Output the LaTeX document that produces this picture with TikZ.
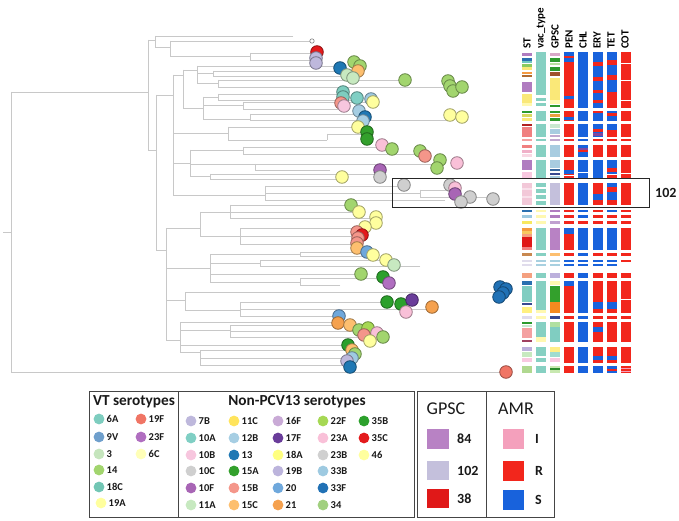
\documentclass[tikz,border=0pt]{standalone}
\usepackage{fontspec}
\setmainfont{Carlito}
% heatmap colours
\definecolor{hR}{HTML}{F2261C}\definecolor{hS}{HTML}{1862DC}\definecolor{hI}{HTML}{F4A0BC}
\definecolor{hT}{HTML}{86D0C2}\definecolor{hPY}{HTML}{FFF8B0}\definecolor{hY}{HTML}{FAE878}
\definecolor{hPur}{HTML}{B07CC0}\definecolor{hBlu}{HTML}{2A70B0}\definecolor{hTeal}{HTML}{70C8C0}
\definecolor{hGrn}{HTML}{8ACB60}\definecolor{hOr}{HTML}{F59A40}\definecolor{hBr}{HTML}{B06A30}
\definecolor{hLil}{HTML}{D8A8C8}\definecolor{hDG}{HTML}{2C9A2C}\definecolor{hPG}{HTML}{B8E0A0}
\definecolor{hBrn}{HTML}{A0522D}\definecolor{hOl}{HTML}{D8D860}\definecolor{hOrB}{HTML}{E8A040}
\definecolor{hDR}{HTML}{B02020}\definecolor{hSal}{HTML}{F08080}\definecolor{hSalB}{HTML}{F4A0A0}
\definecolor{hMint}{HTML}{C8E8D0}\definecolor{hLB}{HTML}{A8CCE0}\definecolor{hLilB}{HTML}{C0A8D0}
\definecolor{hVio}{HTML}{8048A0}\definecolor{hPk}{HTML}{F0B0C8}\definecolor{hPPk}{HTML}{F8D8E4}
\definecolor{hPkB}{HTML}{F8C8E0}\definecolor{hDB}{HTML}{3868A0}\definecolor{hNav}{HTML}{384890}
\definecolor{hLav}{HTML}{C4C0DC}\definecolor{hBxPk}{HTML}{F2C8D8}\definecolor{hBxPkB}{HTML}{F8E0EA}
\definecolor{hEF}{HTML}{B882C4}\definecolor{hRedB}{HTML}{E01818}\definecolor{hOrY}{HTML}{F8C860}
\definecolor{hSalC}{HTML}{F4A080}\definecolor{hBO}{HTML}{C88850}\definecolor{hOrL}{HTML}{FDBF6F}
\definecolor{hLBg}{HTML}{A8D0E0}\definecolor{hPale}{HTML}{E0DCEC}\definecolor{hYB}{HTML}{FFF080}
\definecolor{hOrC}{HTML}{F58A1F}\definecolor{hGG}{HTML}{33A02C}\definecolor{hLG}{HTML}{B0E0A0}
\definecolor{hPR}{HTML}{A04060}\definecolor{hLGB}{HTML}{B0D890}\definecolor{hLGC}{HTML}{C8E8B0}
\definecolor{hDGB}{HTML}{2A8A2A}\definecolor{hLT}{HTML}{A0DCD0}\definecolor{hYe}{HTML}{FFEE88}
\definecolor{hLilC}{HTML}{BCB0DC}\definecolor{hPGr}{HTML}{C7E9C0}\definecolor{hLBl}{HTML}{9ECAE1}
\definecolor{hYC}{HTML}{F8E860}\definecolor{hLilD}{HTML}{C0A0D0}\definecolor{hPTe}{HTML}{80CDC1}
% serotype colours
\definecolor{s6A}{HTML}{7ECDBF}\definecolor{s9V}{HTML}{6F9FCC}\definecolor{s3}{HTML}{C5E5BD}
\definecolor{s14}{HTML}{A2D56E}\definecolor{s18C}{HTML}{72C6B4}\definecolor{s19A}{HTML}{FFFF9E}
\definecolor{s19F}{HTML}{F07565}\definecolor{s23F}{HTML}{B06EC0}\definecolor{s6C}{HTML}{FFFFB8}
\definecolor{s7B}{HTML}{BEB8DC}\definecolor{s10A}{HTML}{80CFC4}\definecolor{s10B}{HTML}{F7C6DE}
\definecolor{s10C}{HTML}{CFCFCF}\definecolor{s10F}{HTML}{A865B5}\definecolor{s11A}{HTML}{C7E9C0}
\definecolor{s11C}{HTML}{FFE45C}\definecolor{s12B}{HTML}{A6CEE3}\definecolor{s13}{HTML}{1F78B4}
\definecolor{s15A}{HTML}{33A02C}\definecolor{s15B}{HTML}{F4968A}\definecolor{s15C}{HTML}{FDBF6F}
\definecolor{s16F}{HTML}{C9AAD6}\definecolor{s17F}{HTML}{6A3D9A}\definecolor{s18A}{HTML}{FFFF80}
\definecolor{s19B}{HTML}{BCB4DC}\definecolor{s20}{HTML}{6FA8DC}\definecolor{s21}{HTML}{F5A14E}
\definecolor{s22F}{HTML}{A6D854}\definecolor{s23A}{HTML}{F9C0D8}\definecolor{s23B}{HTML}{D0D0D0}
\definecolor{s33B}{HTML}{9ECAE1}\definecolor{s33F}{HTML}{2171B5}\definecolor{s34}{HTML}{A1D07F}
\definecolor{s35B}{HTML}{2CA02C}\definecolor{s35C}{HTML}{E31A1C}\definecolor{s46}{HTML}{FFFF9E}
\definecolor{treegray}{HTML}{C8C8C8}
\definecolor{boxgray}{HTML}{454545}
% macros
\newcommand\Vl[3]{\draw[treeline] (#1,#2) -- (#1,#3);}
\newcommand\Hl[3]{\draw[treeline] (#2,#1) -- (#3,#1);}
\newcommand\cc[3]{\filldraw[fill=#3,draw=#3!62!black,line width=0.8pt] (#1,#2) circle (6.3);}
\newcommand\hm[4]{\fill[#4] ({522+14.1*#1},#2) rectangle ({532+14.1*#1},#3);}
\newcommand\lgi[4]{\fill[#4] (#1,#2) circle (5.4); \node[lgt,anchor=west] (lg#3) at ({#1+6.5},#2) {#3};}
\begin{document}
\begin{tikzpicture}[x=1pt,y=-1pt,
  treeline/.style={draw=treegray,line width=0.8pt,line cap=rect},
  lgt/.style={font=\bfseries\fontsize{10.5}{11}\selectfont,inner sep=1pt,text=black!90},
  hdr/.style={font=\bfseries\fontsize{11}{11}\selectfont,inner sep=0pt,rotate=90,anchor=west},
  legbox/.style={draw=boxgray,line width=1pt},
  ttl/.style={font=\bfseries\fontsize{15.3}{16}\selectfont,inner sep=0pt,text=black!90},
  ttlr/.style={font=\fontsize{18}{18}\selectfont,inner sep=0pt,text=black!90},
  swl/.style={font=\bfseries\fontsize{14}{14}\selectfont,inner sep=0pt,anchor=west,text=black!90}]
\useasboundingbox (0,0) rectangle (679,521);
% ---------------- tree ----------------
\Hl{232}{3}{11}\Vl{11}{92}{372}\Hl{92}{11}{148}\Hl{372}{11}{506}
\Vl{148}{40}{150}
\Hl{40}{148}{155}\Vl{155}{36}{47}\Hl{36}{155}{293}\Hl{47}{155}{170}\Vl{170}{41}{56}
\Hl{41}{170}{310}\Hl{56}{170}{250}\Vl{250}{53}{60}\Hl{53}{250}{317}\Hl{60}{250}{316}
\Hl{150}{148}{156}
\Vl{156}{95}{250}
\Hl{95}{156}{173}
\Vl{173}{75}{195}
\Hl{75}{173}{183}
\Vl{183}{70}{108}
\Hl{70}{183}{197}
\Vl{197}{66}{83}
\Hl{66}{197}{340}
\Hl{73}{197}{213}\Vl{213}{71}{76}\Hl{71}{213}{353}\Hl{76}{213}{347}
\Hl{83}{197}{218}\Vl{218}{80}{87}\Hl{80}{218}{405}\Hl{87}{218}{450}
\Hl{108}{183}{203}
\Vl{203}{97}{119}
\Hl{97}{203}{218}\Vl{218}{94}{100}\Hl{94}{218}{343}\Hl{100}{218}{357}
\Hl{105}{203}{243}\Vl{243}{102}{109}\Hl{102}{243}{372}\Hl{109}{243}{343}
\Hl{119}{203}{250}\Vl{250}{114}{120}\Hl{114}{250}{360}\Hl{120}{250}{450}
\Hl{133}{173}{228}
\Vl{228}{127}{140}\Hl{127}{228}{358}\Hl{140}{228}{327}\Vl{327}{134}{140}\Hl{134}{327}{367}
\Hl{163}{173}{190}
\Vl{190}{150}{176}
\Hl{150}{190}{243}\Vl{243}{147}{154}\Hl{147}{243}{382}\Hl{154}{243}{420}
\Hl{164}{190}{255}\Vl{255}{164}{170}\Hl{164}{255}{440}\Hl{170}{255}{330}
\Hl{176}{190}{210}\Vl{210}{174}{179}\Hl{174}{210}{380}\Hl{179}{210}{342}
\Hl{195}{173}{265}
\Vl{265}{186}{200}\Hl{186}{265}{404}\Hl{193}{265}{420}\Vl{420}{190}{197}
\Hl{190}{420}{452}\Hl{197}{420}{493}\Hl{200}{265}{445}
\Hl{250}{156}{166}
\Vl{166}{228}{340}
\Hl{228}{166}{200}
\Vl{200}{212}{236}
\Hl{212}{200}{230}\Vl{230}{205}{218}\Hl{205}{230}{351}\Hl{212}{230}{359}\Hl{218}{230}{376}
\Hl{236}{200}{240}\Vl{240}{228}{244}\Hl{228}{240}{365}\Hl{236}{240}{358}\Hl{244}{240}{357}
\Hl{268}{166}{210}
\Vl{210}{254}{282}
\Hl{254}{210}{300}\Vl{300}{252}{256}\Hl{252}{300}{367}\Hl{256}{300}{373}
\Hl{263}{210}{260}\Vl{260}{260}{266}\Hl{260}{260}{386}\Hl{266}{260}{420}
\Hl{274}{210}{361}
\Hl{282}{210}{300}\Vl{300}{278}{285}\Hl{278}{300}{383}\Hl{285}{300}{340}
\Hl{300}{166}{185}
\Vl{185}{292}{310}\Hl{292}{185}{500}\Hl{310}{185}{240}\Vl{240}{302}{316}
\Hl{302}{240}{387}\Hl{309}{240}{432}\Hl{316}{240}{339}
\Hl{340}{166}{180}
\Vl{180}{322}{352}
\Hl{322}{180}{338}
\Hl{330}{180}{230}\Vl{230}{325}{337}\Hl{325}{230}{350}\Hl{331}{230}{368}\Hl{337}{230}{383}
\Hl{345}{180}{348}
\Hl{352}{180}{200}\Vl{200}{350}{365}\Hl{350}{200}{352}\Hl{358}{200}{352}\Hl{365}{200}{350}
% ---------------- tip circles ----------------
\filldraw[fill=white,draw=gray,line width=0.6pt] (312,41) circle (2.2);
\cc{317}{52}{s35C}\cc{316}{58}{s7B}\cc{316}{63}{s7B}
\cc{340}{68}{s13}
\cc{354}{62}{s14}\cc{360}{66}{s14}\cc{358}{71}{s15C}\cc{347}{75}{s11A}\cc{353}{78}{s11A}
\cc{405}{80}{s14}
\cc{448}{81}{s14}\cc{450}{86}{s14}\cc{453}{91}{s14}\cc{462}{87}{s14}
\cc{343}{92}{s6A}\cc{343}{97}{s6A}\cc{357}{98}{s10A}
\cc{371}{99}{s33B}\cc{373}{102}{s19A}
\cc{341}{103}{s15B}\cc{344}{106}{s10B}
\cc{359}{111}{s12B}\cc{365}{117}{s13}\cc{363}{121}{s12B}
\cc{358}{127}{s19A}\cc{367}{132}{s15A}\cc{367}{139}{s15A}
\cc{450}{115}{s19A}\cc{462}{117}{s19A}
\cc{382}{145}{s23A}\cc{392}{149}{s14}
\cc{420}{151}{s14}\cc{425}{156}{s15B}
\cc{440}{160}{s14}\cc{437}{168}{s14}\cc{457}{163}{s23A}
\cc{380}{170}{s10F}\cc{380}{177}{s10C}
\cc{342}{177}{s19A}
\cc{404}{185}{s10C}
\cc{450}{185}{s10C}\cc{455}{188}{s23A}\cc{455}{194}{s10F}\cc{470}{197}{s10C}\cc{461}{202}{s10C}
\cc{493}{199}{s10C}
\cc{351}{205}{s14}\cc{359}{212}{s19A}\cc{376}{217}{s46}\cc{376}{223}{s46}
\cc{365}{227}{s19A}\cc{357}{232}{s15B}\cc{362}{235}{s35C}\cc{358}{238}{s15B}\cc{357}{243}{s15B}\cc{357}{248}{s15C}
\cc{367}{252}{s20}\cc{373}{255}{s19A}
\cc{386}{260}{s19A}\cc{394}{265}{s11A}
\cc{361}{274}{s14}
\cc{383}{277}{s35B}\cc{389}{283}{s23F}
\cc{500}{287}{s33F}\cc{506}{289}{s33F}\cc{503}{293}{s33F}\cc{499}{297}{s33F}
\cc{387}{302}{s35B}\cc{401}{304}{s35B}\cc{412}{300}{s17F}\cc{406}{312}{s23A}\cc{432}{307}{s21}
\cc{339}{316}{s20}\cc{338}{323}{s21}\cc{350}{325}{s15C}
\cc{359}{330}{s14}\cc{368}{328}{s22F}\cc{377}{333}{s23A}\cc{364}{335}{s15B}\cc{383}{337}{s14}\cc{370}{341}{s19A}
\cc{348}{345}{s35B}\cc{352}{350}{s15C}\cc{355}{354}{s14}\cc{352}{358}{s33B}\cc{347}{361}{s7B}\cc{350}{367}{s13}
\cc{506}{372}{s19F}
% ---------------- heatmap ----------------
% G1
\hm{0}{53}{56}{hPur}\hm{0}{58}{61}{hBlu}\hm{0}{61}{63}{hTeal}\hm{0}{64}{67}{hGrn}\hm{0}{67}{70}{hY}
\hm{0}{72}{74}{hOr}\hm{0}{75}{77}{hBr}\hm{0}{82}{92}{hPur}\hm{0}{94}{103}{hY}\hm{0}{103}{106}{hPY}
\hm{1}{52}{95}{hT}\hm{1}{98}{101}{hT}\hm{1}{103}{106}{hT}
\hm{2}{53}{56}{hLil}\hm{2}{58}{62}{hDG}\hm{2}{63}{65}{hPG}\hm{2}{67}{71}{hDG}\hm{2}{72}{76}{hBrn}
\hm{2}{78}{100}{hY}\hm{2}{100}{104}{hPY}\hm{2}{105}{107}{hDG}
\hm{3}{52}{108}{hR}\hm{3}{52}{56}{hS}\hm{3}{58}{62}{hS}\hm{3}{96}{99}{hS}
\hm{4}{52}{108}{hS}
\hm{5}{52}{108}{hS}\hm{5}{62}{66}{hR}\hm{5}{77}{81}{hR}\hm{5}{90}{93}{hR}\hm{5}{100}{103}{hR}
\hm{6}{52}{108}{hS}\hm{6}{60}{65}{hR}\hm{6}{75}{80}{hR}\hm{6}{92}{108}{hR}
\hm{7}{52}{108}{hR}\hm{7}{63}{64}{white}\hm{7}{80}{81}{white}\hm{7}{100}{101}{white}
% G2
\hm{0}{111}{113}{hDG}\hm{0}{114}{117}{hOl}\hm{0}{118}{121}{hY}
\hm{1}{111}{121}{hT}
\hm{2}{111}{113}{hDG}\hm{2}{114}{117}{hOrB}\hm{2}{118}{121}{hDG}
\hm{3}{111}{121}{hR}\hm{3}{117}{120}{hS}
\hm{4}{111}{121}{hS}
\hm{5}{111}{121}{hS}\hm{5}{111}{113}{hR}
\hm{6}{111}{121}{hS}\hm{6}{113}{116}{hR}
\hm{7}{111}{121}{hR}
% G3
\hm{0}{124}{126}{hDR}\hm{0}{127}{137}{hSal}\hm{0}{139}{141}{hSalB}
\hm{1}{124}{137}{hT}\hm{1}{139}{141}{hT}
\hm{2}{124}{128}{hMint}\hm{2}{129}{134}{hLB}\hm{2}{135}{137}{hLilB}\hm{2}{139}{141}{hLilB}
\hm{3}{124}{137}{hR}\hm{3}{139}{141}{hR}
\hm{4}{124}{137}{hS}\hm{4}{139}{141}{hS}
\hm{5}{124}{137}{hS}\hm{5}{129}{132}{hR}\hm{5}{133}{136}{hVio}\hm{5}{139}{141}{hR}
\hm{6}{124}{137}{hS}\hm{6}{130}{137}{hR}\hm{6}{139}{141}{hR}
\hm{7}{124}{137}{hR}\hm{7}{139}{141}{hR}
% G4
\hm{0}{145}{148}{hSal}\hm{0}{150}{153}{hPk}\hm{0}{154}{157}{hPPk}
\hm{1}{145}{157}{hT}\hm{2}{145}{157}{hLB}\hm{3}{145}{157}{hR}
\hm{4}{145}{157}{hS}\hm{4}{148}{150}{hVio}\hm{4}{150}{152}{hR}
\hm{5}{145}{157}{hR}\hm{6}{145}{157}{hR}\hm{7}{145}{157}{hR}
% G5
\hm{0}{160}{170}{hPur}\hm{0}{172}{178}{hPkB}
\hm{1}{160}{178}{hT}
\hm{2}{160}{168}{hLB}\hm{2}{169}{171}{hDB}\hm{2}{173}{175}{hNav}\hm{2}{176}{178}{hLB}
\hm{3}{160}{178}{hR}\hm{3}{170}{174}{hS}\hm{3}{175}{176}{white}
\hm{4}{160}{178}{hS}\hm{4}{172}{173}{white}
\hm{5}{160}{178}{hS}
\hm{6}{160}{178}{hS}\hm{6}{168}{172}{hR}\hm{6}{175}{178}{hR}\hm{6}{174}{175}{white}
\hm{7}{160}{178}{hR}\hm{7}{173}{174}{white}
% G6 (box)
\hm{0}{183}{205}{hBxPk}\hm{0}{188}{190}{hBxPkB}\hm{0}{196}{198}{hBxPkB}
\hm{1}{183}{187}{hT}\hm{1}{189}{193}{hT}\hm{1}{195}{199}{hT}\hm{1}{201}{205}{hT}
\hm{2}{183}{205}{hLav}
\hm{3}{183}{205}{hR}\hm{4}{183}{205}{hS}
\hm{5}{183}{205}{hR}\hm{5}{194}{200}{hS}
\hm{6}{183}{205}{hS}\hm{6}{187}{192}{hR}\hm{6}{200}{205}{hR}
\hm{7}{183}{205}{hR}
% G7-G9
\hm{0}{210}{212}{hBlu}\hm{1}{210}{212}{hPY}\hm{2}{210}{212}{hPur}\hm{3}{210}{212}{hR}
\hm{4}{210}{212}{hS}\hm{5}{210}{212}{hR}\hm{6}{210}{212}{hS}\hm{7}{210}{212}{hR}
\hm{0}{215}{218}{hLBl}\hm{1}{215}{218}{hPY}\hm{2}{215}{218}{hPur}\hm{3}{215}{218}{hR}
\hm{4}{215}{218}{hS}\hm{5}{215}{218}{hR}\hm{6}{215}{218}{hR}\hm{7}{215}{218}{hR}
\hm{0}{221}{224}{hYC}\hm{1}{221}{224}{hPY}\hm{2}{221}{224}{hLilD}\hm{3}{221}{224}{hR}
\hm{4}{221}{224}{hR}\hm{5}{221}{224}{hR}\hm{6}{221}{224}{hR}\hm{7}{221}{224}{hR}
% G10
\hm{0}{228}{231}{hOr}\hm{0}{231}{234}{hOrY}\hm{0}{234}{237}{hSalC}\hm{0}{237}{247}{hRedB}\hm{0}{247}{250}{hSal}
\hm{1}{228}{250}{hT}\hm{2}{228}{250}{hEF}
\hm{3}{228}{250}{hR}\hm{3}{228}{234}{hS}
\hm{4}{228}{250}{hS}\hm{5}{228}{250}{hS}\hm{6}{228}{250}{hS}\hm{7}{228}{250}{hR}
% G11-G13
\hm{0}{253}{256}{hBO}\hm{1}{253}{256}{hT}\hm{2}{253}{256}{hOrL}\hm{3}{253}{256}{hR}
\hm{4}{253}{256}{hS}\hm{5}{253}{256}{hR}\hm{6}{253}{256}{hR}\hm{7}{253}{256}{hR}
\hm{0}{260}{262}{hPale}\hm{1}{260}{262}{hLBg}\hm{2}{260}{262}{hLBg}\hm{3}{260}{262}{hS}
\hm{4}{260}{262}{hS}\hm{5}{260}{262}{hS}\hm{6}{260}{262}{hS}\hm{7}{260}{262}{hR}
\hm{0}{264}{266}{hPale}\hm{1}{264}{266}{hLBg}\hm{2}{264}{266}{hLBg}\hm{3}{264}{266}{hS}
\hm{4}{264}{266}{hS}\hm{5}{264}{266}{hS}\hm{6}{264}{266}{hS}
\hm{0}{273}{278}{hSalC}\hm{1}{273}{278}{hT}\hm{2}{273}{278}{hLilC}\hm{3}{273}{278}{hR}
\hm{4}{273}{278}{hS}\hm{5}{273}{278}{hR}\hm{6}{273}{278}{hR}\hm{7}{273}{278}{hR}
% G14
\hm{0}{281}{285}{hBlu}\hm{0}{286}{302}{hPTe}\hm{0}{303}{305}{hNav}\hm{0}{307}{313}{hYB}
\hm{1}{281}{310}{hT}\hm{1}{310}{313}{hPY}
\hm{2}{281}{285}{hPY}\hm{2}{286}{302}{hGG}\hm{2}{302}{313}{hOrC}
\hm{3}{281}{313}{hR}\hm{3}{281}{286}{hS}
\hm{4}{281}{313}{hS}
\hm{5}{281}{313}{hR}\hm{5}{302}{309}{hS}
\hm{6}{281}{313}{hR}\hm{6}{302}{309}{hS}
\hm{7}{281}{313}{hR}\hm{7}{299}{300}{white}
% G15
\hm{0}{316}{319}{hPale}\hm{1}{316}{319}{hPY}\hm{2}{316}{319}{hNav}\hm{3}{316}{319}{hR}
\hm{4}{316}{319}{hS}\hm{5}{316}{319}{hR}\hm{6}{316}{319}{hR}\hm{7}{316}{319}{hR}
% G16
\hm{0}{322}{324}{hDG}\hm{0}{325}{327}{hMint}\hm{0}{328}{338}{hSalB}\hm{0}{340}{342}{hPR}
\hm{1}{322}{337}{hT}\hm{1}{337}{342}{hPY}
\hm{2}{322}{327}{hLG}\hm{2}{327}{342}{hPTe}
\hm{3}{322}{342}{hR}\hm{4}{322}{342}{hS}
\hm{5}{322}{342}{hR}\hm{5}{327}{332}{hS}
\hm{6}{322}{342}{hR}\hm{7}{322}{342}{hR}
% G17
\hm{0}{347}{351}{hLilC}\hm{0}{352}{357}{hPGr}\hm{0}{358}{362}{hPkB}
\hm{1}{347}{356}{hT}\hm{1}{358}{362}{hT}
\hm{2}{347}{352}{hYe}\hm{2}{352}{357}{hLT}\hm{2}{358}{362}{hPkB}
\hm{3}{347}{363}{hR}\hm{4}{347}{363}{hS}
\hm{5}{347}{363}{hR}\hm{5}{356}{360}{hS}
\hm{6}{347}{363}{hR}\hm{6}{356}{360}{hS}
\hm{7}{347}{363}{hR}
% G18
\hm{0}{366}{373}{hLGB}\hm{1}{366}{373}{hT}\hm{2}{366}{373}{hLGC}\hm{2}{368}{370}{hDGB}
\hm{3}{366}{373}{hR}\hm{4}{366}{373}{hS}\hm{5}{366}{373}{hS}
\hm{6}{366}{373}{hS}\hm{6}{369}{371}{hR}
\hm{7}{366}{373}{hR}\hm{7}{368}{369}{hI}\hm{7}{371}{372}{hI}
% headers
\node[hdr] (hST) at (527,49) {ST};
\node[hdr] (hVac) at (541,49) {vac\_type};
\node[hdr] (hGPSC) at (555,49) {GPSC};
\node[hdr] (hPEN) at (569,49) {PEN};
\node[hdr] (hCHL) at (583,49) {CHL};
\node[hdr] (hERY) at (597,49) {ERY};
\node[hdr] (hTET) at (611,49) {TET};
\node[hdr] (hCOT) at (625,49) {COT};
% highlight box
\draw[line width=0.9pt,black!85] (392,178) rectangle (649,207);
\node[font=\bfseries\fontsize{14}{14}\selectfont,inner sep=0pt,anchor=west,text=black!90] (lab102) at (655,193) {102};
% ---------------- legend ----------------
\draw[legbox] (89,391) rectangle (178,517);
\draw[legbox] (178,391) rectangle (414,517);
\draw[legbox] (417,391) rectangle (486,517);
\draw[legbox] (486,391) rectangle (554,517);
\node[ttl] (tVT) at (134,402) {VT serotypes};
\node[ttl] (tNP) at (297,402) {Non-PCV13 serotypes};
\node[ttlr] (tG) at (446,409) {GPSC};
\node[ttlr] (tA) at (516,409) {AMR};
\lgi{99}{419}{6A}{s6A}\lgi{99}{437}{9V}{s9V}\lgi{99}{454}{3}{s3}
\lgi{99}{470}{14}{s14}\lgi{99}{487}{18C}{s18C}\lgi{101}{503}{19A}{s19A}
\lgi{141}{419}{19F}{s19F}\lgi{141}{437}{23F}{s23F}\lgi{141}{454}{6C}{s6C}
\lgi{191}{421}{7B}{s7B}\lgi{191}{438}{10A}{s10A}\lgi{191}{455}{10B}{s10B}
\lgi{191}{471}{10C}{s10C}\lgi{191}{488}{10F}{s10F}\lgi{191}{505}{11A}{s11A}
\lgi{234}{421}{11C}{s11C}\lgi{234}{438}{12B}{s12B}\lgi{234}{455}{13}{s13}
\lgi{234}{471}{15A}{s15A}\lgi{234}{488}{15B}{s15B}\lgi{234}{505}{15C}{s15C}
\lgi{278}{421}{16F}{s16F}\lgi{278}{438}{17F}{s17F}\lgi{278}{455}{18A}{s18A}
\lgi{278}{471}{19B}{s19B}\lgi{278}{488}{20}{s20}\lgi{278}{505}{21}{s21}
\lgi{323}{421}{22F}{s22F}\lgi{323}{438}{23A}{s23A}\lgi{323}{455}{23B}{s23B}
\lgi{323}{471}{33B}{s33B}\lgi{323}{488}{33F}{s33F}\lgi{323}{505}{34}{s34}
\lgi{364}{421}{35B}{s35B}\lgi{364}{438}{35C}{s35C}\lgi{364}{455}{46}{s46}
% GPSC swatches
\fill[hEF] (427,429) rectangle (449,449);\node[swl] (g84) at (457,439) {84};
\fill[hLav] (427,461) rectangle (449,480);\node[swl] (g102) at (457,470.5) {102};
\fill[hRedB] (427,489) rectangle (449,508);\node[swl] (g38) at (457,498.5) {38};
% AMR swatches
\fill[hI] (503,429) rectangle (524,449);\node[swl] (aI) at (535,439) {I};
\fill[hR] (503,461) rectangle (524,481);\node[swl] (aR) at (535,471) {R};
\fill[hS] (503,490) rectangle (524,510);\node[swl] (aS) at (535,500) {S};
\end{tikzpicture}
\end{document}
